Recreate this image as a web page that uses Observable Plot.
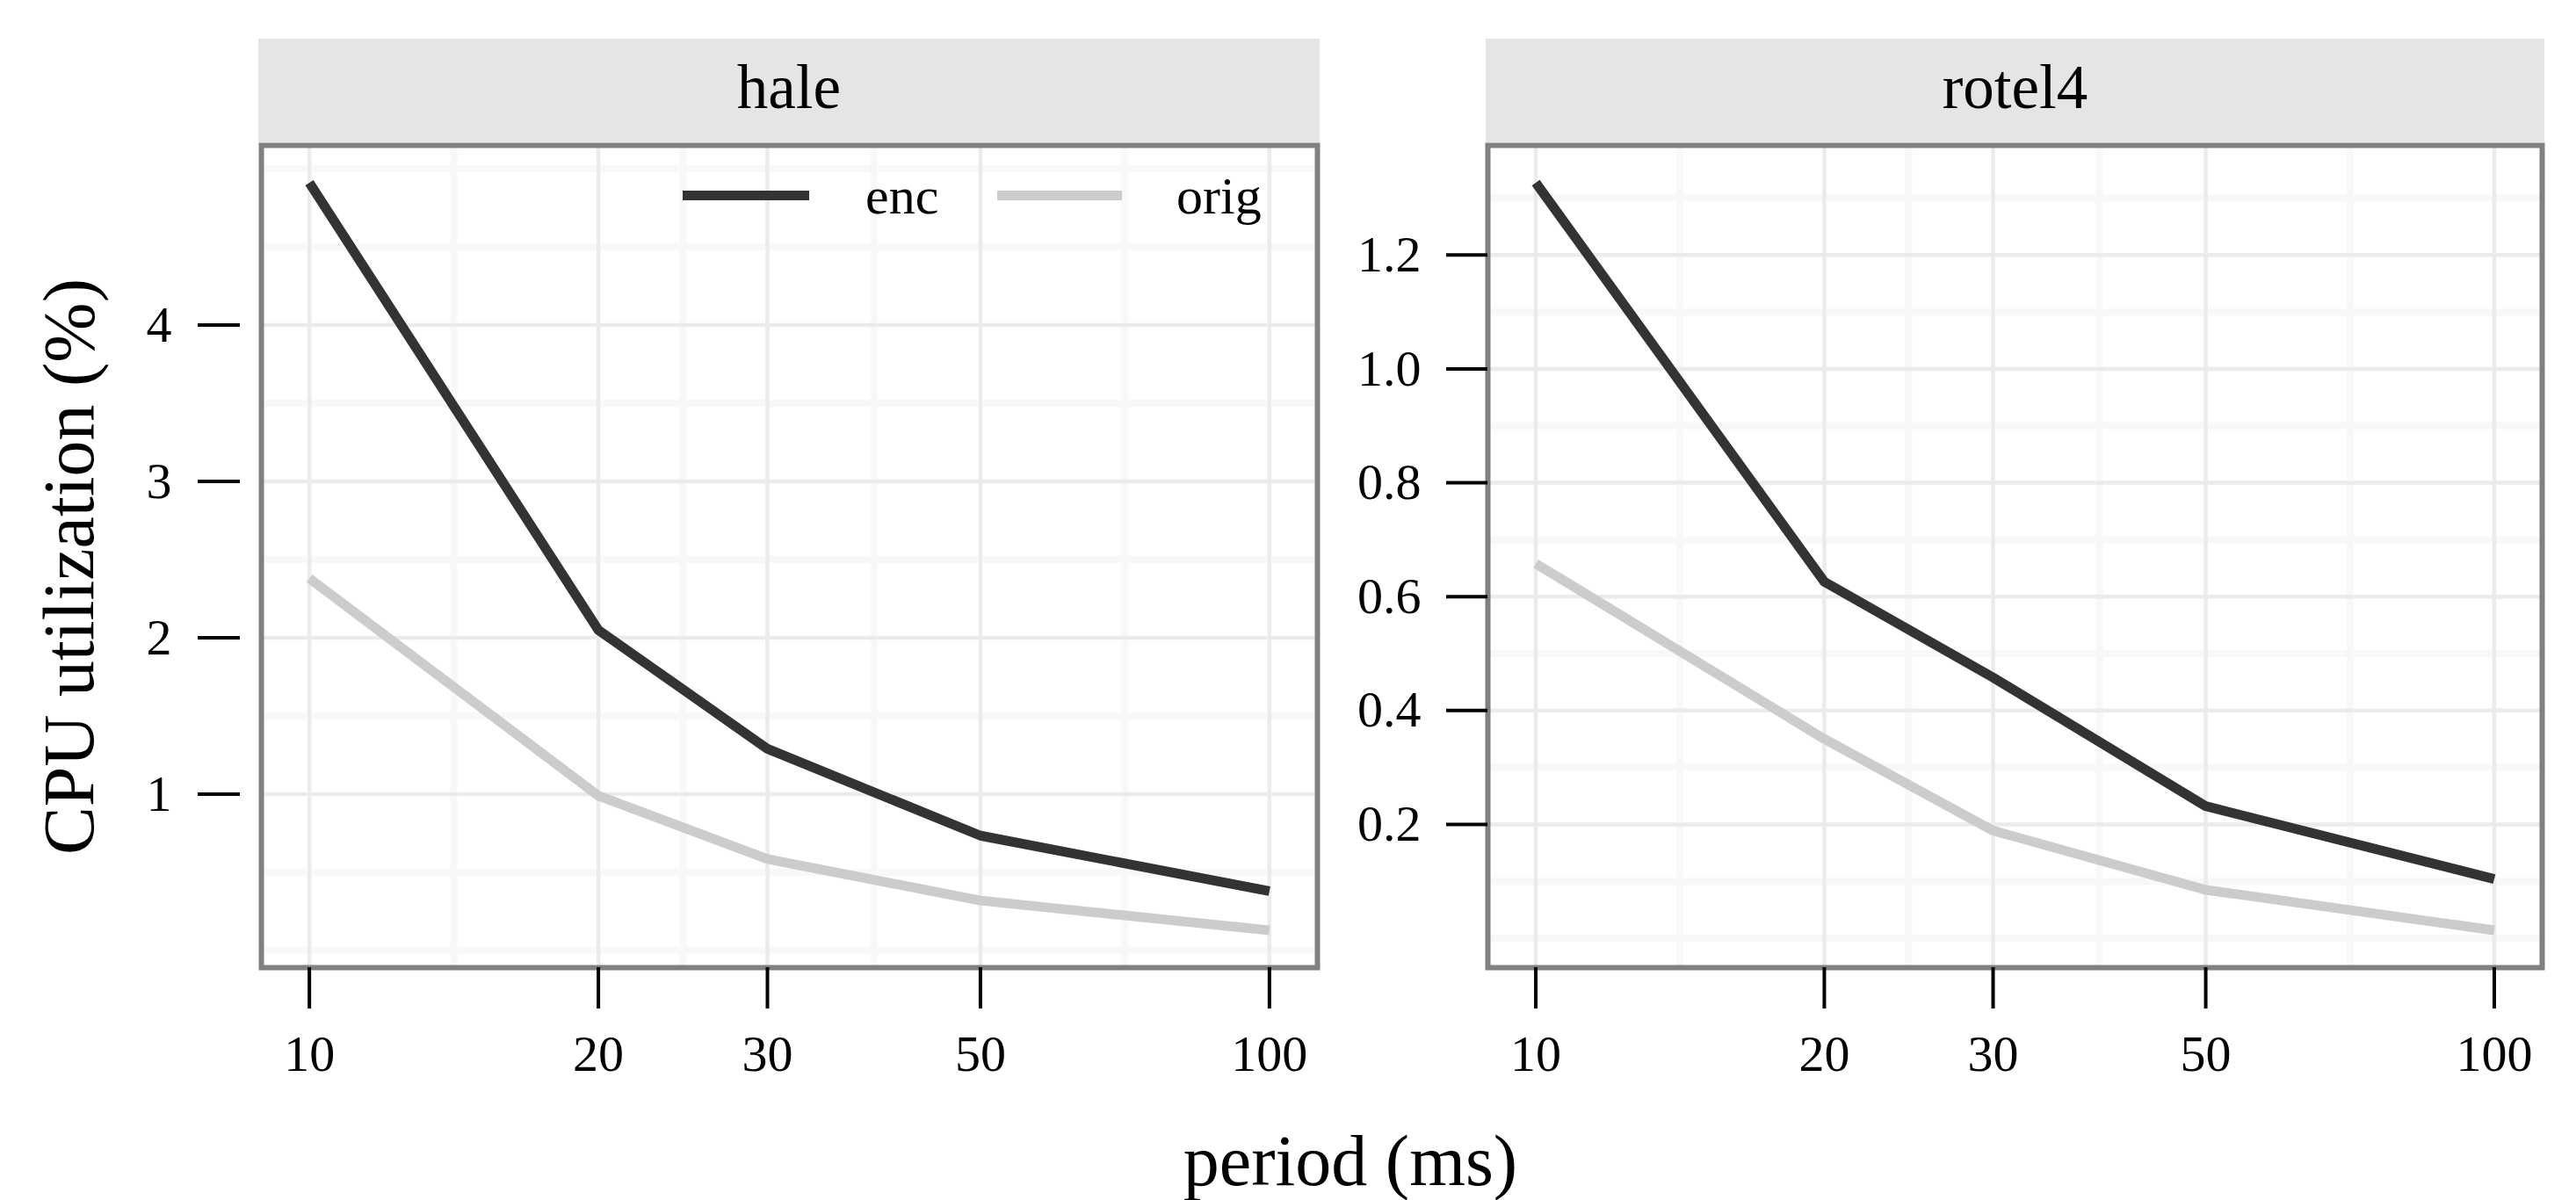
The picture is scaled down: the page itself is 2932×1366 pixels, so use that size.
<!DOCTYPE html>
<html><head><meta charset="utf-8">
<script src="https://cdn.jsdelivr.net/npm/d3@7"></script>
<script src="https://cdn.jsdelivr.net/npm/@observablehq/plot@0.6"></script>
<style>
body{margin:0;background:#fff;}
#chart{position:relative;width:2932px;height:1366px;overflow:hidden;font-family:"Liberation Serif",serif;color:#000;background:#fff;}
.abs{position:absolute;line-height:1;white-space:nowrap;}
</style></head><body><div id="chart"></div>
<script>
// ---- data ----
const periods = [10, 20, 30, 50, 100];
const panelNames = ["hale", "rotel4"];
const seriesNames = ["enc", "orig"];
const seriesColors = ["#333333", "#cccccc"];
const haleEnc = [4.91, 2.05, 1.29, 0.735, 0.38];
const haleOrig = [2.38, 0.99, 0.585, 0.32, 0.13];
const rotelEnc = [1.327, 0.626, 0.458, 0.232, 0.104];
const rotelOrig = [0.658, 0.35, 0.189, 0.085, 0.014];
const xTicks = [10, 20, 30, 50, 100];
const haleYTicks = [1, 2, 3, 4];
const rotelYTicks = [0.2, 0.4, 0.6, 0.8, 1.0, 1.2];
const xTitle = "period (ms)";
const yTitle = "CPU utilization (%)";

const FONT = "Liberation Serif";
const chart = document.getElementById("chart");

function rowsFor(encVals, origVals) {
  const out = [];
  periods.forEach((p, i) => out.push({period: p, value: encVals[i], series: seriesNames[0]}));
  periods.forEach((p, i) => out.push({period: p, value: origVals[i], series: seriesNames[1]}));
  return out;
}
function expandLinear(vals) {
  const lo = d3.min(vals), hi = d3.max(vals), p = (hi - lo) * 0.05;
  return [lo - p, hi + p];
}
function expandLog(vals) {
  const lo = Math.log10(d3.min(vals)), hi = Math.log10(d3.max(vals)), p = (hi - lo) * 0.05;
  return [Math.pow(10, lo - p), Math.pow(10, hi + p)];
}
function minorLinear(ticks, domain) {
  const step = ticks[1] - ticks[0];
  const ext = [ticks[0] - step, ...ticks, ticks[ticks.length - 1] + step];
  const out = [];
  for (let i = 0; i < ext.length - 1; i++) { out.push(ext[i], (ext[i] + ext[i + 1]) / 2); }
  out.push(ext[ext.length - 1]);
  return out.filter(v => v >= domain[0] && v <= domain[1] && !ticks.some(t => Math.abs(t - v) < 1e-9));
}
function minorLog(ticks, domain) {
  const r = ticks[1] / ticks[0];
  const ext = [ticks[0] / r, ...ticks, ticks[ticks.length - 1] * r];
  const out = [];
  for (let i = 0; i < ext.length - 1; i++) out.push(Math.sqrt(ext[i] * ext[i + 1]));
  return out.filter(v => v >= domain[0] && v <= domain[1]);
}

const xDomain = expandLog(periods);
const xMinor = minorLog(xTicks, xDomain);

function makePanel(cfg) {
  const data = rowsFor(cfg.enc, cfg.orig);
  const yDomain = expandLinear([...cfg.enc, ...cfg.orig]);
  const yMinor = minorLinear(cfg.yTicks, yDomain);
  const svg = Plot.plot({
    width: cfg.width, height: 1366,
    marginTop: 165, marginBottom: 265, marginLeft: cfg.marginLeft, marginRight: cfg.marginRight,
    x: {type: "log", domain: xDomain},
    y: {domain: yDomain},
    color: {domain: seriesNames, range: seriesColors},
    style: {fontFamily: FONT, fontSize: "58px", background: "transparent", color: "#000"},
    marks: [
      Plot.ruleY(yMinor, {stroke: "#f8f8f8", strokeWidth: 8}),
      Plot.ruleX(xMinor, {stroke: "#f8f8f8", strokeWidth: 8}),
      Plot.ruleY(cfg.yTicks, {stroke: "#ebebeb", strokeWidth: 4.5}),
      Plot.ruleX(xTicks, {stroke: "#ebebeb", strokeWidth: 4.5}),
      Plot.line(data, {x: "period", y: "value", z: "series", stroke: "series", strokeWidth: 11, strokeLinecap: "butt", strokeLinejoin: "round"}),
      Plot.frame({stroke: "#808080", strokeWidth: 6}),
      Plot.axisX({ticks: xTicks, tickFormat: d => String(d), tickSize: 47, tickPadding: 29, strokeWidth: 4, fontSize: 58, label: null}),
      Plot.axisY({ticks: cfg.yTicks, tickFormat: cfg.fmt, tickSize: cfg.tickSize, tickPadding: cfg.tickPadding, dx: cfg.dx, strokeWidth: 4, fontSize: 58, label: null})
    ]
  });
  svg.style.position = "absolute";
  svg.style.left = cfg.left + "px";
  svg.style.top = "0px";
  chart.appendChild(svg);
}

makePanel({left: 0, width: 1520, marginLeft: 297, marginRight: 21, enc: haleEnc, orig: haleOrig,
  yTicks: haleYTicks, fmt: d3.format("d"), tickSize: 48, tickPadding: 30, dx: -24});
makePanel({left: 1520, width: 1412, marginLeft: 173, marginRight: 39, enc: rotelEnc, orig: rotelOrig,
  yTicks: rotelYTicks, fmt: d3.format(".1f"), tickSize: 47, tickPadding: 29, dx: 0});

// ---- overlays: strips, legend, titles ----
function addDiv(style, text) {
  const d = document.createElement("div");
  d.className = "abs";
  Object.assign(d.style, style);
  if (text != null) d.textContent = text;
  chart.appendChild(d);
  return d;
}
const A = 0.8375; // baseline offset for line-height:1 in Liberation Serif
const strips = [[294, 1502], [1691, 2896]];
strips.forEach(([l, r], i) => {
  addDiv({left: l + "px", top: "44px", width: (r - l) + "px", height: "118px", background: "#e5e5e5"});
  addDiv({left: l + "px", top: (123 - A * 71) + "px", width: (r - l) + "px", textAlign: "center", fontSize: "71px"}, panelNames[i]);
});

// legend (inside hale panel, top-right)
const legendKeys = [[777, 921, 985], [1135, 1277, 1339]];
legendKeys.forEach(([x0, x1, tx], i) => {
  addDiv({left: x0 + "px", top: (222 - 5.5) + "px", width: (x1 - x0) + "px", height: "11px", background: seriesColors[i]});
  addDiv({left: tx + "px", top: (243 - A * 60) + "px", fontSize: "60px"}, seriesNames[i]);
});

// x title
addDiv({left: (1537 - 1000) + "px", width: "2000px", textAlign: "center", top: (1350 - A * 82) + "px", fontSize: "82px"}, xTitle);
// y title (rotated)
addDiv({left: (79 - 1000) + "px", width: "2000px", textAlign: "center", top: (645 - 41) + "px", fontSize: "82px", transform: "rotate(-90deg)", transformOrigin: "50% 50%"}, yTitle);
</script>
</body></html>
